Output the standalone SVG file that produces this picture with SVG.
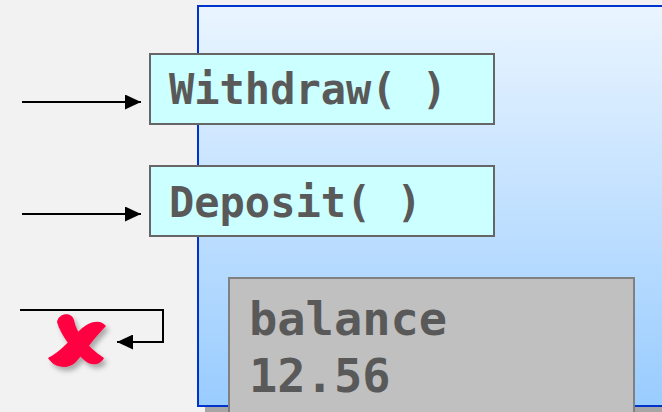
<svg xmlns="http://www.w3.org/2000/svg" width="662" height="412" viewBox="0 0 662 412">
<style>
.lbl{font-family:"DejaVu Sans Mono","Liberation Mono",monospace;font-weight:bold;fill:#595959}
.method{fill:#ccffff;stroke:#666666;stroke-width:2}
.conn{fill:none;stroke:#000;stroke-width:2}
</style>
<defs>
<linearGradient id="bg" x1="0" y1="0" x2="0" y2="1">
<stop offset="0" stop-color="#eaf5ff"/>
<stop offset="1" stop-color="#99ccff"/>
</linearGradient>
<marker id="ah" markerWidth="17" markerHeight="15" refX="16" refY="7.5" orient="auto" markerUnits="userSpaceOnUse">
<path d="M0,0 L16,7.5 L0,15 Z" fill="#000"/>
</marker>
<filter id="sh" x="-30%" y="-30%" width="160%" height="160%">
<feDropShadow dx="3" dy="4" stdDeviation="2.5" flood-color="#000" flood-opacity="0.3"/>
</filter>
</defs>
<rect width="662" height="412" fill="#f2f2f2"/>
<g id="object">
<rect x="205" y="14" width="470" height="410" fill="#a6a6a6"/>
<rect x="198" y="6" width="480" height="400" fill="url(#bg)" stroke="#0033cc" stroke-width="2"/>
</g>
<g id="withdraw">
<rect class="method" x="150" y="54" width="344" height="70"/>
<text class="lbl" x="169" y="104" font-size="42">Withdraw( )</text>
</g>
<g id="deposit">
<rect class="method" x="150" y="166" width="344" height="70"/>
<text class="lbl" x="169" y="217" font-size="42">Deposit( )</text>
</g>
<g id="balance">
<rect x="229" y="278" width="405" height="150" fill="#c0c0c0" stroke="#808080" stroke-width="2"/>
<text class="lbl" x="249" y="335" font-size="47">balance</text>
<text class="lbl" x="249" y="392" font-size="47">12.56</text>
</g>
<g id="connectors">
<line class="conn" x1="22" y1="102" x2="141" y2="102" marker-end="url(#ah)"/>
<line class="conn" x1="22" y1="214" x2="141" y2="214" marker-end="url(#ah)"/>
<polyline class="conn" points="20,310 163,310 163,342 117,342" marker-end="url(#ah)"/>
</g>
<g id="reject" filter="url(#sh)" fill="#ff0040">
<path d="M57,322 C59,312 72,312 74,320 C76,332 86,346 104,358 C100,366 90,366 84,360 C72,349 61,336 57,322 Z"/>
<path d="M106,326 C100,318 88,322 80,330 C70,340 60,352 48,358 C54,368 68,370 76,362 C86,350 96,336 106,326 Z"/>
</g>
</svg>
